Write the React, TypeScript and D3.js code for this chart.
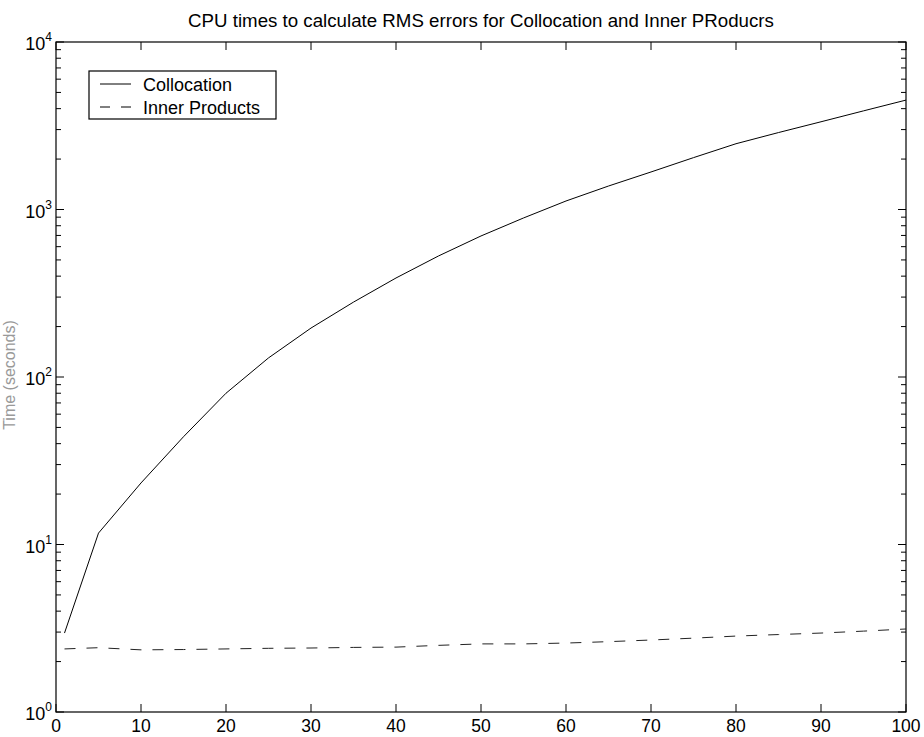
import { useEffect, useRef } from "react";
import * as d3 from "d3";

const nValues = [1, 5, 10, 15, 20, 25, 30, 35, 40, 45, 50, 55, 60, 65, 70, 75, 80, 85, 90, 95, 100];
const collocation = [2.96, 11.7, 23.3, 44, 80, 130, 196, 280, 390, 528, 695, 890, 1124, 1381, 1675, 2040, 2470, 2880, 3340, 3880, 4500];
const innerProducts = [2.38, 2.42, 2.35, 2.36, 2.38, 2.4, 2.41, 2.43, 2.44, 2.5, 2.55, 2.55, 2.58, 2.63, 2.69, 2.76, 2.84, 2.9, 2.96, 3.04, 3.13];
const xTicks = [0, 10, 20, 30, 40, 50, 60, 70, 80, 90, 100];
const yDecades = [0, 1, 2, 3, 4];

const App = () => {
  const ref = useRef<SVGSVGElement>(null);

  useEffect(() => {
    const svg = d3.select(ref.current);
    svg.selectAll("*").remove();

    const margin = { top: 42, right: 18, bottom: 25, left: 56 };
    const width = 924 - margin.left - margin.right;
    const height = 737 - margin.top - margin.bottom;
    const font = "'Liberation Sans', Arial, sans-serif";

    const x = d3.scaleLinear().domain([0, 100]).range([0, width]);
    const y = d3.scaleLog().domain([1, 10000]).range([height, 0]);

    const g = svg.append("g").attr("transform", `translate(${margin.left},${margin.top})`);

    // frame
    g.append("rect")
      .attr("width", width)
      .attr("height", height)
      .attr("fill", "none")
      .attr("stroke", "#000")
      .attr("stroke-width", 1.2);

    // x ticks (bottom and top, inward)
    xTicks.forEach((t) => {
      g.append("line").attr("x1", x(t)).attr("x2", x(t)).attr("y1", height).attr("y2", height - 8).attr("stroke", "#000");
      g.append("line").attr("x1", x(t)).attr("x2", x(t)).attr("y1", 0).attr("y2", 8).attr("stroke", "#000");
      g.append("text")
        .attr("x", x(t))
        .attr("y", height + 20)
        .attr("text-anchor", "middle")
        .style("font-family", font)
        .style("font-size", "17.5px")
        .text(t);
    });

    // y ticks
    yDecades.forEach((d) => {
      const v = Math.pow(10, d);
      g.append("line").attr("x1", 0).attr("x2", 8).attr("y1", y(v)).attr("y2", y(v)).attr("stroke", "#000");
      g.append("line").attr("x1", width).attr("x2", width - 8).attr("y1", y(v)).attr("y2", y(v)).attr("stroke", "#000");
      const label = g.append("text")
        .attr("x", -4)
        .attr("y", y(v) + 8)
        .attr("text-anchor", "end")
        .style("font-family", font)
        .style("font-size", "18px");
      label.append("tspan").text("10");
      label.append("tspan").attr("dy", -9).style("font-size", "12px").text(d);
      if (d < 4) {
        for (let k = 2; k <= 9; k++) {
          const m = k * v;
          g.append("line").attr("x1", 0).attr("x2", 5).attr("y1", y(m)).attr("y2", y(m)).attr("stroke", "#000");
          g.append("line").attr("x1", width).attr("x2", width - 5).attr("y1", y(m)).attr("y2", y(m)).attr("stroke", "#000");
        }
      }
    });

    const line = d3
      .line<number>()
      .x((_, i) => x(nValues[i]))
      .y((d) => y(d));

    g.append("path")
      .datum(collocation)
      .attr("d", line)
      .attr("fill", "none")
      .attr("stroke", "#000")
      .attr("stroke-width", 1);

    g.append("path")
      .datum(innerProducts)
      .attr("d", line)
      .attr("fill", "none")
      .attr("stroke", "#222")
      .attr("stroke-width", 1)
      .attr("stroke-dasharray", "11,11");

    // title
    svg.append("text")
      .attr("x", margin.left + width / 2)
      .attr("y", 27)
      .attr("text-anchor", "middle")
      .style("font-family", font)
      .style("font-size", "18.7px")
      .text("CPU times to calculate RMS errors for Collocation and Inner PRoducrs");

    // y label
    svg.append("text")
      .attr("transform", `translate(15,375) rotate(-90)`)
      .attr("text-anchor", "middle")
      .style("font-family", font)
      .style("font-size", "16px")
      .attr("fill", "#999")
      .text("Time (seconds)");

    // legend
    const lg = g.append("g").attr("transform", "translate(33,29)");
    lg.append("rect")
      .attr("width", 187)
      .attr("height", 48)
      .attr("fill", "#fff")
      .attr("stroke", "#000")
      .attr("stroke-width", 1.2);
    const items = [
      { name: "Collocation", dash: null },
      { name: "Inner Products", dash: "10,11" },
    ];
    items.forEach((it, i) => {
      const cy = 13 + i * 23;
      lg.append("line")
        .attr("x1", 11)
        .attr("x2", 42)
        .attr("y1", cy)
        .attr("y2", cy)
        .attr("stroke", "#000")
        .attr("stroke-dasharray", it.dash);
      lg.append("text")
        .attr("x", 54)
        .attr("y", cy + 7)
        .style("font-family", font)
        .style("font-size", "18px")
        .text(it.name);
    });
  }, []);

  return (
    <svg
      ref={ref}
      width={924}
      height={737}
      style={{ position: "absolute", left: 0, top: 0, background: "#fff" }}
    />
  );
};

export default App;
